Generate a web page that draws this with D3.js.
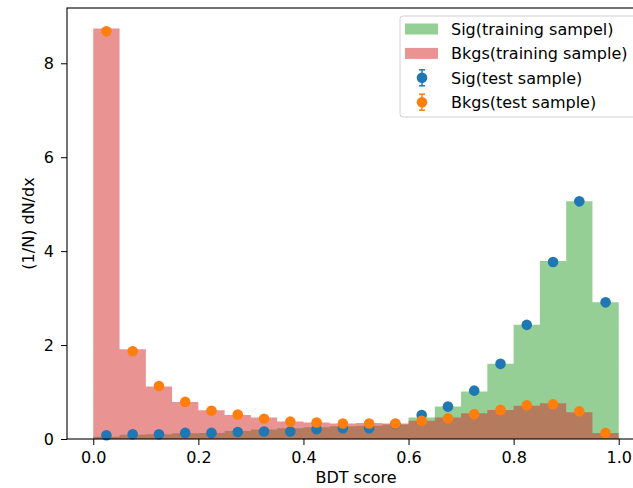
<!DOCTYPE html>
<html>
<head>
<meta charset="utf-8">
<script src="https://cdn.jsdelivr.net/npm/d3@7"></script>
<style>
  body { margin: 0; background: #fff; }
  text { font-family: "DejaVu Sans", sans-serif; fill: #000; }
</style>
</head>
<body>
<script>
// bin edges: 20 bins of width 0.05 from 0 to 1
var binEdges = d3.range(0, 21).map(function(i) { return i * 0.05; });

// training samples (histograms)
var sigTrain = [0.05, 0.09, 0.10, 0.12, 0.13, 0.17, 0.20, 0.23, 0.25, 0.27,
                0.28, 0.31, 0.46, 0.69, 1.01, 1.60, 2.43, 3.79, 5.06, 2.91];
var bkgTrain = [8.74, 1.91, 1.12, 0.79, 0.61, 0.51, 0.46, 0.37, 0.35, 0.33,
                0.34, 0.33, 0.39, 0.46, 0.55, 0.62, 0.71, 0.76, 0.57, 0.13];

// test samples (points at bin centres)
var sigTest = [0.08, 0.10, 0.10, 0.13, 0.13, 0.15, 0.16, 0.16, 0.21, 0.23,
               0.23, 0.32, 0.51, 0.69, 1.03, 1.60, 2.43, 3.77, 5.06, 2.91];
var bkgTest = [8.68, 1.87, 1.13, 0.79, 0.60, 0.52, 0.43, 0.37, 0.35, 0.33,
               0.33, 0.33, 0.39, 0.44, 0.53, 0.62, 0.72, 0.74, 0.59, 0.13];

var xTicks = [0.0, 0.2, 0.4, 0.6, 0.8, 1.0];
var yTicks = [0, 2, 4, 6, 8];

var legendLabels = ["Sig(training sampel)", "Bkgs(training sample)",
                    "Sig(test sample)", "Bkgs(test sample)"];

var colors = { sig: "#2ca02c", bkg: "#d62728", sigPt: "#1f77b4", bkgPt: "#ff7f0e" };

var W = 633, H = 488, fs = "16px";
var margin = {left: 67, top: 8, right: 645, bottom: 439};

var svg = d3.select("body").append("svg")
    .attr("width", W)
    .attr("height", H);

var yMax = d3.max([d3.max(bkgTrain), d3.max(sigTrain), d3.max(bkgTest), d3.max(sigTest)]) * 1.05;

var x = d3.scaleLinear().domain([-0.05, 1.05]).range([margin.left, margin.right]);
var y = d3.scaleLinear().domain([0, yMax]).range([margin.bottom, margin.top]);

function bins(vals) {
  return vals.map(function(v, i) { return {x0: binEdges[i], x1: binEdges[i + 1], v: v}; });
}

// histograms drawn as filled steps (signal first, background on top)
var area = d3.area()
    .curve(d3.curveStepAfter)
    .x(function(d) { return x(d.e); })
    .y0(y(0))
    .y1(function(d) { return y(d.v); });

[[sigTrain, colors.sig], [bkgTrain, colors.bkg]].forEach(function(s) {
  var pts = binEdges.map(function(e, i) { return {e: e, v: i < s[0].length ? s[0][i] : s[0][s[0].length - 1]}; });
  svg.append("path")
      .datum(pts)
      .attr("d", area)
      .attr("fill", s[1])
      .attr("fill-opacity", 0.5);
});

// test points
[[sigTest, colors.sigPt], [bkgTest, colors.bkgPt]].forEach(function(s) {
  svg.append("g").selectAll("circle")
      .data(bins(s[0]))
      .enter().append("circle")
      .attr("cx", function(d) { return x((d.x0 + d.x1) / 2); })
      .attr("cy", function(d) { return y(d.v); })
      .attr("r", 5.3)
      .attr("fill", s[1]);
});

// axes
var xAxis = svg.append("g")
    .attr("transform", "translate(0," + margin.bottom + ")")
    .call(d3.axisBottom(x).tickValues(xTicks).tickFormat(d3.format(".1f"))
      .tickSize(6).tickPadding(7).tickSizeOuter(0));
var yAxis = svg.append("g")
    .attr("transform", "translate(" + margin.left + ",0)")
    .call(d3.axisLeft(y).tickValues(yTicks).tickFormat(d3.format("d"))
      .tickSize(6).tickPadding(7).tickSizeOuter(0));

[xAxis, yAxis].forEach(function(a) {
  a.select(".domain").remove();
  a.selectAll("text").style("font-size", fs).style("font-family", "DejaVu Sans");
  a.selectAll("line").attr("stroke", "#000").attr("stroke-width", 1);
});

// frame
svg.append("rect")
    .attr("x", margin.left)
    .attr("y", margin.top)
    .attr("width", margin.right - margin.left)
    .attr("height", margin.bottom - margin.top)
    .attr("fill", "none")
    .attr("stroke", "#000")
    .attr("stroke-width", 1.1);

svg.append("text")
    .attr("x", (margin.left + margin.right) / 2)
    .attr("y", 483)
    .attr("text-anchor", "middle")
    .style("font-size", fs)
    .text("BDT score");

svg.append("text")
    .attr("transform", "translate(34," + ((margin.top + margin.bottom) / 2) + ") rotate(-90)")
    .attr("text-anchor", "middle")
    .style("font-size", fs)
    .text("(1/N) dN/dx");

// legend
var lg = svg.append("g").attr("transform", "translate(400,16)");
lg.append("rect")
    .attr("width", 238).attr("height", 101)
    .attr("rx", 3)
    .attr("fill", "#fff").attr("fill-opacity", 0.8)
    .attr("stroke", "#d0d0d0");

var rowY = function(i) { return 13 + i * 24.4; };
[colors.sig, colors.bkg].forEach(function(c, i) {
  lg.append("rect")
      .attr("x", 5).attr("y", rowY(i) - 5.5)
      .attr("width", 33).attr("height", 11)
      .attr("fill", c).attr("fill-opacity", 0.5);
});
[colors.sigPt, colors.bkgPt].forEach(function(c, i) {
  var cy = rowY(i + 2);
  lg.append("line").attr("x1", 22).attr("x2", 22).attr("y1", cy - 8).attr("y2", cy + 8)
      .attr("stroke", c).attr("stroke-width", 1.5);
  lg.append("line").attr("x1", 19).attr("x2", 25).attr("y1", cy - 8).attr("y2", cy - 8)
      .attr("stroke", c).attr("stroke-width", 1.5);
  lg.append("line").attr("x1", 19).attr("x2", 25).attr("y1", cy + 8).attr("y2", cy + 8)
      .attr("stroke", c).attr("stroke-width", 1.5);
  lg.append("circle").attr("cx", 22).attr("cy", cy).attr("r", 5.3).attr("fill", c);
});
legendLabels.forEach(function(t, i) {
  lg.append("text")
      .attr("x", 51).attr("y", rowY(i))
      .attr("dy", "0.36em")
      .style("font-size", fs)
      .text(t);
});
</script>
</body>
</html>
